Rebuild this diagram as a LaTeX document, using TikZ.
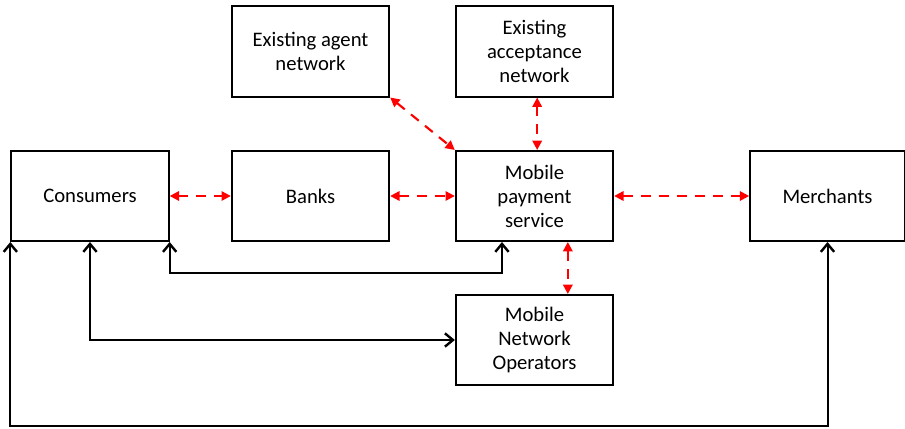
\documentclass[tikz,border=0pt]{standalone}
\usepackage{fontspec}
\setmainfont{Carlito}
\usetikzlibrary{arrows.meta}
\begin{document}
\begin{tikzpicture}[x=0.75pt,y=-0.75pt,
  box/.style={draw=black, line width=1.5pt, fill=white, inner sep=0pt,
    minimum width=118pt, minimum height=67.5pt, align=center,
    font=\fontsize{15.5pt}{18pt}\selectfont},
  redlink/.style={draw=red, line width=1.6pt, dash pattern=on 7.5pt off 6pt,
    {Triangle[length=7pt,width=7pt]}-{Triangle[length=7pt,width=7pt]}},
  blacklink/.style={draw=black, line width=1.5pt,
    {Straight Barb[length=6pt,width=10pt,line width=1.8pt]}-{Straight Barb[length=6pt,width=10pt,line width=1.8pt]}}]
\useasboundingbox (0,0) rectangle (905,428);

% boxes
\node[box] (cons)   at (90,196)    {Consumers};
\node[box] (banks)  at (310.5,196) {Banks};
\node[box] (mps)    at (534.5,196) {Mobile\\payment\\service};
\node[box, minimum width=116pt] (merch) at (827.5,196) {Merchants};
\node[box] (agent)  at (310.5,51.5) {Existing agent\\network};
\node[box] (accept) at (534.5,51.5) {Existing\\acceptance\\network};
\node[box] (mno)    at (534.5,340) {Mobile\\Network\\Operators};

% dashed red links
\draw[redlink] (cons.east) -- (banks.west);
\draw[redlink] (banks.east) -- (mps.west);
\draw[redlink] (mps.east) -- (merch.west);
\draw[redlink] (agent.south east) -- (mps.north west);
\draw[redlink] ([xshift=2pt]accept.south) -- ([xshift=2pt]mps.north);
\draw[redlink] ([xshift=25pt]mps.south) -- ([xshift=25pt]mno.north);

% solid black links
\draw[blacklink] (cons.south east) -- ++(0,31) -| ([xshift=-24.4pt]mps.south);
\draw[blacklink] (cons.south) |- (mno.west);
\draw[blacklink] (cons.south west) -- ++(0,184) -| (merch.south);
\end{tikzpicture}
\end{document}
